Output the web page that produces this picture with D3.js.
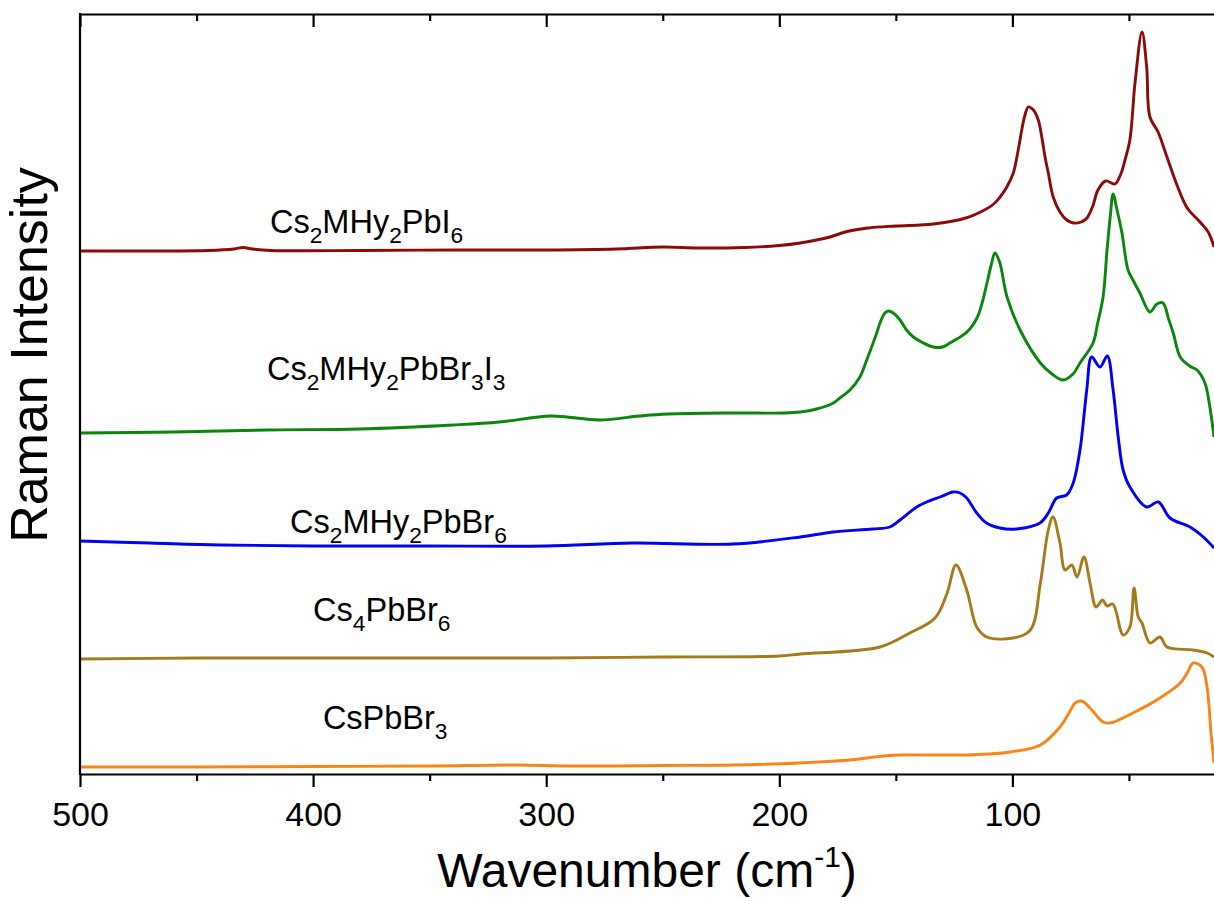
<!DOCTYPE html>
<html>
<head>
<meta charset="utf-8">
<script src="https://cdn.jsdelivr.net/npm/d3@7"></script>
<style>
  html, body { margin: 0; padding: 0; background: #fff; }
  svg { display: block; }
  text { font-family: Arial, "Liberation Sans", sans-serif; fill: #000; }
</style>
</head>
<body>
<svg id="chart" width="1214" height="901"></svg>
<script>
// Wavenumber axis ticks (cm^-1)
const wnTicks = [500, 400, 300, 200, 100];
const wnMinorTicks = [450, 350, 250, 150, 50];

// Series labels; "_" marks the following digit as a subscript
const seriesLabels = ["Cs_2MHy_2PbI_6", "Cs_2MHy_2PbBr_3I_3", "Cs_2MHy_2PbBr_6", "Cs_4PbBr_6", "CsPbBr_3"];
const seriesColors = ["#8b0a0a", "#0a860a", "#0000f2", "#a37a1c", "#fb8418"];

// Stacked Raman spectra: [wavenumber (cm^-1), intensity (a.u., offset included)]
const cs2mhy2pbi6 = [
  [500,523],[470,523],[445,523.5],[434,525],[430,526.5],[426,525],[418,523.5],[380,523.5],[340,524],
  [300,524],[270,525],[250,527],[235,526],[215,526.5],[200,528.5],[191,531],[180,536],[170,543],
  [162,546],[150,548],[134,550],[120,556],[112,564],[108,570],[105.3,577],[102.4,587],[99.6,601],
  [97.5,624],[96,644],[94.6,659],[93.2,667],[91,664],[88.9,654],[87.4,637],[86,617],[84.6,601],
  [82.5,577],[79.6,562],[76.7,554],[73.9,551],[70.5,552],[68,556],[65.5,568],[63.3,584],[60,593],
  [56,590],[53.5,600],[51.7,614],[49.6,634],[47.4,691],[44.4,742],[42.4,707],[41,657],[37.5,642],
  [33.7,617],[29.4,589],[25,566],[19.5,552],[16,542],[13.5,527]
];
const cs2mhy2pbbr3i3 = [
  [500,341],[460,342],[420,344],[380,345],[340,349],[320,352],[298,358],[277,354],[260,358],
  [248,360],[220,361],[198,361],[191,362],[184,365],[176.8,371],[174,376],[169.7,384],[165.4,397],
  [162.5,414],[160.4,427],[158.2,441],[156.8,451],[154.7,461],[153.2,463],[151.1,461],[148.2,454],
  [145.4,444],[142.5,437],[138.2,431],[134,427],[130,427],[126.8,431],[119.5,442],[115.2,456],
  [113,471],[110.9,491],[109,510],[107.5,521],[105.5,512],[102.3,477],[96.7,444],[88,411],[83,400],
  [78.3,394],[74,400],[71,411],[65.4,431],[63.5,450],[61.1,477],[59.4,524],[58,558],[56.8,580],
  [55.2,565],[53,541],[50.4,504],[48.3,494],[45.3,481],[41,462],[38,470],[35.4,471],[33,455],
  [31,441],[28,417],[24,408],[20.8,404],[17.4,391],[15.5,370],[13.5,337]
];
const cs2mhy2pbbr6 = [
  [500,233],[470,231],[440,229],[400,228],[350,228],[300,228],[263,231],[220,230],[191,237],
  [177,242],[160,245],[152.6,247],[148.2,254],[141.1,267],[136.8,272],[131.1,277],[125.4,282],
  [122.5,281],[119.6,276],[115.3,261],[111.1,251],[105.3,246],[98.2,245],[88.2,251],[84.6,261],
  [81,276],[76.7,279],[73.9,291],[71,324],[68.1,384],[66,417],[62.4,407],[59.3,418],[56.8,384],
  [54.6,337],[52.5,304],[49.6,287],[42.4,267],[37.4,272],[32.4,256],[23.8,247],[18.1,237],[13.5,226]
];
const cs4pbbr6 = [
  [500,115],[450,116],[400,116],[350,116],[300,116],[250,117],[200,118],[191,120],[156.8,127],
  [144,141],[133.2,156],[128,181],[124.2,209],[119.6,184],[115.3,147],[111,137],[99.7,136],
  [92.3,144],[88,191],[84.6,244],[82.6,257],[79.6,231],[77.4,204],[74.5,209],[72.3,197],[69.3,217],
  [66.7,191],[64.1,167],[61.3,174],[59.4,168],[56.9,170],[52.5,139],[49.6,147],[47.8,186],[46,157],
  [44.4,151],[41,131],[36.7,137],[33.7,127],[22.5,124],[16.5,121],[13.5,117]
];
const cspbbr3 = [
  [500,7],[450,7],[400,7.5],[350,8],[312,9],[290,8],[250,8.5],[220,9],[191,11],[170,14],[155,18],
  [148,19],[130,19],[119.6,19],[110,20],[101,22],[88,29],[79.6,47],[75,64],[73.1,71],[70.2,73],
  [66.7,66],[61.1,52],[58.1,51],[48.3,61],[36.7,76],[28,91],[25,101],[22.5,111],[18.7,107],
  [16.5,87],[14.8,41],[13.5,11]
];
const spectra = [cs2mhy2pbi6, cs2mhy2pbbr3i3, cs2mhy2pbbr6, cs4pbbr6, cspbbr3];

// Label anchors in data coordinates (start of text, baseline)
const labelAnchors = [[418.5, 541], [419.8, 394], [409.9, 241], [400, 153], [395.8, 45]];

const svg = d3.select("#chart");
const plot = { left: 80, top: 14, bottom: 774, right: 1214 };

const x = d3.scaleLinear().domain([500, 0]).range([plot.left, 1245.5]);
const y = d3.scaleLinear().domain([0, 760]).range([plot.bottom, plot.top]);

svg.append("defs").append("clipPath").attr("id", "plot-area")
  .append("rect")
  .attr("x", plot.left).attr("y", plot.top)
  .attr("width", plot.right - plot.left).attr("height", plot.bottom - plot.top);

const line = d3.line()
  .x(d => x(d[0]))
  .y(d => y(d[1]))
  .curve(d3.curveCatmullRom.alpha(0.5));

svg.append("g").attr("clip-path", "url(#plot-area)")
  .selectAll("path")
  .data(spectra)
  .join("path")
  .attr("d", line)
  .attr("fill", "none")
  .attr("stroke", (d, i) => seriesColors[i])
  .attr("stroke-width", 2.9)
  .attr("stroke-linejoin", "round");

// Bottom axis: major ticks with labels, minor ticks without
const bottomAxis = svg.append("g").attr("transform", `translate(0,${plot.bottom})`);
bottomAxis.call(d3.axisBottom(x).tickValues(wnTicks).tickFormat(d3.format("d"))
  .tickSizeInner(13).tickSizeOuter(0));
bottomAxis.selectAll("text").attr("y", 28).style("font-size", "34px");
const bottomMinor = svg.append("g").attr("transform", `translate(0,${plot.bottom})`);
bottomMinor.call(d3.axisBottom(x).tickValues(wnMinorTicks).tickFormat("").tickSizeInner(7).tickSizeOuter(0));
bottomMinor.select(".domain").remove();

// Top frame with inward ticks
const topAxis = svg.append("g").attr("transform", `translate(0,${plot.top})`);
topAxis.call(d3.axisTop(x).tickValues(wnTicks).tickFormat("").tickSizeInner(-13).tickSizeOuter(0));
const topMinor = svg.append("g").attr("transform", `translate(0,${plot.top})`);
topMinor.call(d3.axisTop(x).tickValues(wnMinorTicks).tickFormat("").tickSizeInner(-7).tickSizeOuter(0));
topMinor.select(".domain").remove();

svg.selectAll(".domain").attr("stroke-width", 2.2);
svg.selectAll(".tick line").attr("stroke-width", 2.2);

// Left frame
svg.append("line")
  .attr("x1", plot.left).attr("x2", plot.left)
  .attr("y1", plot.top - 1).attr("y2", plot.bottom + 1)
  .attr("stroke", "#000").attr("stroke-width", 2.2);

// Series labels with subscripts
function addFormula(g, label, size) {
  const parts = label.split(/_(\d)/);
  const shift = size * 0.3;
  let sub = false;
  parts.forEach((p, i) => {
    if (p === "") return;
    const isSub = i % 2 === 1;
    const t = g.append("tspan").text(p);
    if (isSub) {
      t.style("font-size", (size * 0.7) + "px").attr("dy", sub ? 0 : shift);
      sub = true;
    } else {
      t.style("font-size", size + "px").attr("dy", sub ? -shift : 0);
      sub = false;
    }
  });
}

seriesLabels.forEach((lab, i) => {
  const t = svg.append("text")
    .attr("x", x(labelAnchors[i][0]))
    .attr("y", y(labelAnchors[i][1]));
  addFormula(t, lab, 32.5);
});

// Axis titles
const xt = svg.append("text")
  .attr("x", (plot.left + plot.right) / 2)
  .attr("y", 887)
  .attr("text-anchor", "middle")
  .style("font-size", "48px");
xt.append("tspan").text("Wavenumber (cm");
xt.append("tspan").text("-1").style("font-size", "30px").attr("dy", -20);
xt.append("tspan").text(")").attr("dy", 20);

svg.append("text")
  .attr("transform", "translate(47,355) rotate(-90)")
  .attr("text-anchor", "middle")
  .style("font-size", "52px")
  .text("Raman Intensity");
</script>
</body>
</html>
